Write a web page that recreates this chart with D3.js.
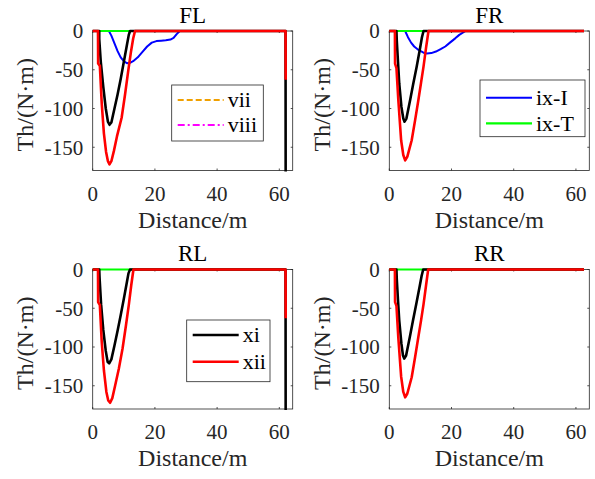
<!DOCTYPE html>
<meta charset="utf-8">
<script src="https://d3js.org/d3.v7.min.js"></script>
<style>
  body { margin: 0; background: #fff; }
  svg text { font-family: 'Liberation Serif', 'Times New Roman', serif; }
</style>
<body>
<svg width="595" height="479"></svg>
</body>
<script>

// ---- data: [distance (m), torque (N·m)] ----
var flVii  = [[0, 0], [62, 0]];
var flViii = [[0, 0], [62, 0]];
var flIxI  = [[0, 0], [5.2, 0], [6, -6], [7, -16], [8, -26], [9, -34], [10, -39], [11, -41.5], [12, -41],
              [13, -39], [14.5, -34], [16, -27], [17.5, -20], [19, -15], [20.5, -13], [22, -12.5],
              [23.5, -12], [25, -11], [26, -9], [27, -4], [28, 0], [62, 0]];
var flIxT  = [[0, 0], [62, 0]];
var flXi   = [[0, 0], [2.1, 0], [2.1, -10], [2.6, -40], [3.4, -72], [4.2, -100], [4.9, -117], [5.4, -121],
              [6.0, -118], [7.0, -100], [8.0, -82], [9.0, -62], [10.0, -40], [11.0, -18], [11.6, -5],
              [12.0, 0], [62, 0], [62.05, -250]];
var flXii  = [[0, 0], [1.7, 0], [1.75, -42], [2.3, -45], [2.9, -93], [3.6, -132], [4.3, -156], [4.9, -168],
              [5.4, -172], [6.0, -168], [6.8, -155], [7.8, -136], [9.3, -112], [10.4, -82], [11.4, -52],
              [12.3, -27], [13.0, -10], [13.6, 0], [62, 0], [62.05, -63]];

var frIxI  = [[0, 0], [5.1, 0], [6, -8], [7, -15], [8, -20], [9.4, -24.5], [11, -28], [12.1, -29],
              [13.5, -28.5], [15, -26.5], [16.5, -23.5], [18, -20], [19.5, -15], [21.2, -9.5],
              [22.5, -5], [24.5, 0], [62.6, 0]];
var frIxT  = [[0, 0], [62.6, 0]];
var frXi   = [[0, 0], [2.3, 0], [2.4, -12], [2.8, -40], [3.2, -68], [3.9, -98], [4.5, -113], [4.9, -117],
              [5.5, -113], [6.7, -89], [7.7, -68], [8.8, -46], [9.9, -22], [10.5, -8], [11, 0], [62.6, 0]];
var frXii  = [[0, 0], [1.8, 0], [1.85, -42], [2.3, -48], [2.9, -89], [3.8, -141], [4.5, -160], [5.1, -167],
              [5.8, -162], [7.2, -141], [8.3, -115], [9.35, -89], [10.2, -67], [11, -46], [11.8, -22],
              [12.6, 0], [62.6, 0]];

var rlIxT  = [[0, 0], [62, 0]];
var rlXi   = [[0, 0], [2.1, 0], [2.2, -10], [2.7, -45], [3.4, -78], [4.2, -105], [4.8, -119], [5.3, -121],
              [6.0, -116], [7.0, -98], [8.0, -79], [9.0, -59], [10.0, -38], [11.0, -16], [11.5, -5],
              [12.0, 0], [62, 0], [62.05, -250]];
var rlXii  = [[0, 0], [1.7, 0], [1.75, -42], [2.3, -46], [2.9, -93], [3.6, -130], [4.4, -158], [5.0, -169],
              [5.6, -172], [6.3, -166], [7.2, -150], [8.4, -128], [9.6, -102], [10.7, -72], [11.6, -46],
              [12.4, -20], [13.1, 0], [62, 0], [62.05, -63]];

var rrIxT  = [[0, 0], [62.6, 0]];
var rrXi   = [[0, 0], [2.3, 0], [2.4, -12], [2.8, -40], [3.2, -66], [3.9, -96], [4.4, -111], [4.8, -115],
              [5.4, -111], [6.6, -87], [7.6, -66], [8.7, -44], [9.8, -21], [10.4, -8], [10.9, 0], [62.6, 0]];
var rrXii  = [[0, 0], [1.8, 0], [1.85, -42], [2.3, -47], [2.9, -88], [3.8, -138], [4.5, -158], [5.1, -165],
              [5.8, -160], [7.2, -139], [8.3, -113], [9.3, -88], [10.2, -66], [11.0, -45], [11.8, -21],
              [12.5, 0], [62.6, 0]];

var xTicks = [0, 20, 40, 60];
var yTicks = [-150, -100, -50, 0];
var xLimits = [0, 64.3];
var yLimits = [-180, 0];

// ---- styles ----
var styles = {
  "vii":  {color: "#f0a000", width: 2.2, dash: "6,3"},
  "viii": {color: "#ff00ff", width: 2.2, dash: "7,3,2,3"},
  "ix-I": {color: "#0000ff", width: 2, dash: null},
  "ix-T": {color: "#00ff00", width: 2.2, dash: null},
  "xi":   {color: "#000000", width: 2.6, dash: null},
  "xii":  {color: "#ff0000", width: 2.6, dash: null}
};

// panel layout (pixels) + legend boxes
var panels = [
  {title: "FL", left: 92.7, top: 31, series: {"vii": flVii, "viii": flViii, "ix-I": flIxI, "ix-T": flIxT, "xi": flXi, "xii": flXii},
   legend: {keys: ["vii", "viii"], x: 171.7, y: 85, w: 91.6, h: 56, rows: [15, 40]}},
  {title: "FR", left: 389.3, top: 31, series: {"ix-I": frIxI, "ix-T": frIxT, "xi": frXi, "xii": frXii},
   legend: {keys: ["ix-I", "ix-T"], x: 480, y: 80, w: 105, h: 56.7, rows: [17.7, 43.3]}},
  {title: "RL", left: 92.7, top: 269.5, series: {"ix-T": rlIxT, "xi": rlXi, "xii": rlXii},
   legend: {keys: ["xi", "xii"], x: 186.7, y: 320, w: 83.3, h: 61.7, rows: [15, 41.7]}},
  {title: "RR", left: 389.3, top: 269.5, series: {"ix-T": rrIxT, "xi": rrXi, "xii": rrXii},
   legend: null}
];

var plotW = 200, plotH = 139.5;
var axisColor = "#262626";
var serif = "'Liberation Serif', 'Times New Roman', serif";
var svg = d3.select("svg");

panels.forEach(function(p, pi) {
  var x = d3.scaleLinear().domain(xLimits).range([0, plotW]);
  var y = d3.scaleLinear().domain(yLimits).range([plotH, 0]);

  var g = svg.append("g").attr("transform", "translate(" + p.left + "," + p.top + ")")
    .attr("font-family", serif);

  g.append("clipPath").attr("id", "clip" + pi)
    .append("rect").attr("x", -2).attr("y", -2).attr("width", plotW + 4).attr("height", plotH + 3);

  // box + inward ticks
  g.append("rect").attr("width", plotW).attr("height", plotH)
    .attr("fill", "none").attr("stroke", axisColor).attr("stroke-width", 0.8);

  xTicks.forEach(function(t) {
    g.append("line").attr("x1", x(t)).attr("x2", x(t)).attr("y1", plotH).attr("y2", plotH - 2)
      .attr("stroke", axisColor).attr("stroke-width", 0.8);
    g.append("line").attr("x1", x(t)).attr("x2", x(t)).attr("y1", 0).attr("y2", 2)
      .attr("stroke", axisColor).attr("stroke-width", 0.8);
    g.append("text").attr("x", x(t)).attr("y", plotH + 30)
      .attr("text-anchor", "middle").attr("font-size", 21).attr("fill", "#262626")
      .text(String(t));
  });
  yTicks.forEach(function(t) {
    g.append("line").attr("x1", 0).attr("x2", 2).attr("y1", y(t)).attr("y2", y(t))
      .attr("stroke", axisColor).attr("stroke-width", 0.8);
    g.append("line").attr("x1", plotW).attr("x2", plotW - 2).attr("y1", y(t)).attr("y2", y(t))
      .attr("stroke", axisColor).attr("stroke-width", 0.8);
    g.append("text").attr("x", -9.5).attr("y", y(t)).attr("dy", "0.35em")
      .attr("text-anchor", "end").attr("font-size", 21).attr("fill", "#262626")
      .text(String(t));
  });

  // lines, drawn in legend order so xii ends on top
  var line = d3.line().x(function(d) { return x(d[0]); }).y(function(d) { return y(d[1]); });
  var lines = g.append("g").attr("clip-path", "url(#clip" + pi + ")");
  ["vii", "viii", "ix-I", "ix-T", "xi", "xii"].forEach(function(k) {
    if (!p.series[k]) return;
    var s = styles[k];
    lines.append("path").datum(p.series[k])
      .attr("d", line)
      .attr("fill", "none")
      .attr("stroke", s.color)
      .attr("stroke-width", s.width)
      .attr("stroke-linejoin", "round")
      .attr("stroke-dasharray", s.dash);
  });

  // labels
  g.append("text").attr("x", plotW / 2).attr("y", -8.3)
    .attr("text-anchor", "middle").attr("font-size", 23).attr("fill", "#000").text(p.title);
  g.append("text").attr("x", plotW / 2).attr("y", plotH + 57)
    .attr("text-anchor", "middle").attr("font-size", 24).attr("fill", "#262626").text("Distance/m");
  g.append("text")
    .attr("transform", "translate(-59.4," + (plotH / 2 + 4) + ") rotate(-90)")
    .attr("text-anchor", "middle").attr("font-size", 24).attr("fill", "#262626").text("Th/(N\u00b7m)");

  // legend
  if (p.legend) {
    var L = p.legend;
    var lg = svg.append("g").attr("transform", "translate(" + L.x + "," + L.y + ")")
      .attr("font-family", serif);
    lg.append("rect").attr("width", L.w).attr("height", L.h)
      .attr("fill", "#fff").attr("stroke", axisColor).attr("stroke-width", 0.8);
    L.keys.forEach(function(k, i) {
      var s = styles[k];
      lg.append("line").attr("x1", 6).attr("x2", 52).attr("y1", L.rows[i]).attr("y2", L.rows[i])
        .attr("stroke", s.color).attr("stroke-width", s.width).attr("stroke-dasharray", s.dash);
      lg.append("text").attr("x", 56).attr("y", L.rows[i]).attr("dy", "0.33em")
        .attr("font-size", 22).attr("fill", "#000").text(k);
    });
  }
});

</script>
